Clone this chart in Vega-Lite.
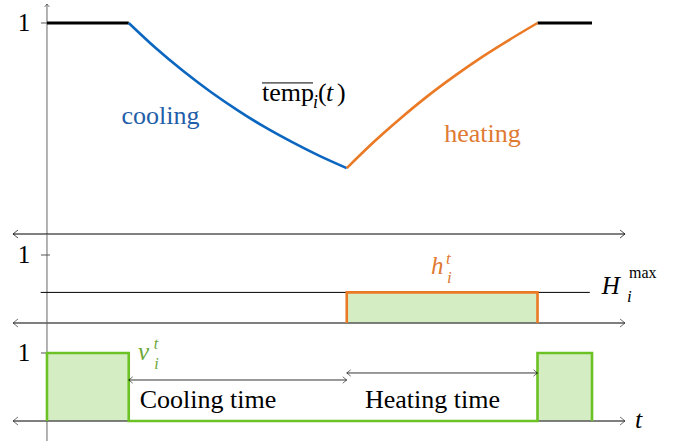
{
  "$schema": "https://vega.github.io/schema/vega-lite/v6.json",
  "padding": 0,
  "spacing": 0,
  "bounds": "flush",
  "config": {"view": {"stroke": null}, "concat": {"spacing": 0}, "font": "Liberation Serif", "text": {"font": "Liberation Serif"}},
  "datasets": {
    "cooling": [
      {"t": 1.5, "v": 1.0}, {"t": 2.0, "v": 0.88}, {"t": 2.5, "v": 0.772}, {"t": 3.0, "v": 0.674},
      {"t": 3.5, "v": 0.586}, {"t": 4.0, "v": 0.506}, {"t": 4.5, "v": 0.435}, {"t": 5.0, "v": 0.37}, {"t": 5.5, "v": 0.312}
    ],
    "heating": [
      {"t": 5.5, "v": 0.312}, {"t": 6.0, "v": 0.437}, {"t": 6.5, "v": 0.551}, {"t": 7.0, "v": 0.657},
      {"t": 7.5, "v": 0.753}, {"t": 8.0, "v": 0.842}, {"t": 8.5, "v": 0.923}, {"t": 9.0, "v": 1.0}
    ],
    "flat": [
      {"seg": "a", "t": 0, "v": 1}, {"seg": "a", "t": 1.5, "v": 1},
      {"seg": "b", "t": 9, "v": 1}, {"seg": "b", "t": 10, "v": 1}
    ],
    "heat_power": [
      {"i": 0, "t": 5.5, "v": 0}, {"i": 1, "t": 5.5, "v": 0.45}, {"i": 2, "t": 9, "v": 0.45}, {"i": 3, "t": 9, "v": 0}
    ],
    "heat_area": [{"t1": 5.5, "t2": 9, "v1": 0, "v2": 0.45}],
    "valve": [
      {"i": 0, "t": 0, "v": 0}, {"i": 1, "t": 0, "v": 1}, {"i": 2, "t": 1.5, "v": 1}, {"i": 3, "t": 1.5, "v": 0},
      {"i": 4, "t": 9, "v": 0}, {"i": 5, "t": 9, "v": 1}, {"i": 6, "t": 10, "v": 1}, {"i": 7, "t": 10, "v": 0}
    ],
    "valve_area": [{"t1": 0, "t2": 1.5, "v1": 0, "v2": 1}, {"t1": 9, "t2": 10, "v1": 0, "v2": 1}]
  },
  "vconcat": [
    {
      "width": 673,
      "height": 234,
      "encoding": {
        "x": {"field": "t", "type": "quantitative", "scale": {"domain": [-0.862, 11.486], "nice": false, "zero": false}, "axis": null},
        "y": {"field": "v", "type": "quantitative", "scale": {"domain": [0, 1.109], "nice": false, "zero": false}, "axis": null}
      },
      "layer": [
        {"data": {"values": [{"t": 0, "v": 0, "v2": 1.09}]}, "mark": {"type": "rule", "color": "#666", "strokeWidth": 1}, "encoding": {"y2": {"field": "v2"}}},
        {"data": {"values": [{"t": 0, "v": 1.09}]}, "mark": {"type": "point", "shape": "M-0.8,1L0,0L0.8,1", "size": 36, "filled": false, "color": "#444", "strokeWidth": 1}},
        {"data": {"values": [{"t": -0.11, "t2": 0.055, "v": 1}]}, "mark": {"type": "rule", "color": "#555", "strokeWidth": 1}, "encoding": {"x2": {"field": "t2"}}},
        {"data": {"values": [{"t": -0.42, "v": 1, "label": "1"}]}, "mark": {"type": "text", "fontSize": 25, "align": "center", "baseline": "middle", "color": "#000"}, "encoding": {"text": {"field": "label"}}},
        {"data": {"values": [{"t": -0.624, "t2": 10.606, "v": 0}]}, "mark": {"type": "rule", "color": "#000", "strokeWidth": 1}, "encoding": {"x2": {"field": "t2"}}},
        {"data": {"values": [{"t": -0.624, "v": 0}]}, "mark": {"type": "point", "shape": "M1,-0.8L0,0L1,0.8", "size": 100, "filled": false, "color": "#000", "strokeWidth": 1}},
        {"data": {"values": [{"t": 10.606, "v": 0}]}, "mark": {"type": "point", "shape": "M-1,-0.8L0,0L-1,0.8", "size": 100, "filled": false, "color": "#000", "strokeWidth": 1}},
        {"data": {"name": "flat"}, "mark": {"type": "line", "color": "#000", "strokeWidth": 3}, "encoding": {"detail": {"field": "seg"}}},
        {"data": {"name": "cooling"}, "mark": {"type": "line", "color": "#0b66c0", "strokeWidth": 2.6, "interpolate": "monotone"}},
        {"data": {"name": "heating"}, "mark": {"type": "line", "color": "#ea7a25", "strokeWidth": 2.6, "interpolate": "monotone"}},
        {"data": {"values": [{"t": 2.083, "v": 0.521, "label": "cooling"}]}, "mark": {"type": "text", "fontSize": 26, "align": "center", "baseline": "alphabetic", "color": "#1f5ea8"}, "encoding": {"text": {"field": "label"}}},
        {"data": {"values": [{"t": 7.99, "v": 0.436, "label": "heating"}]}, "mark": {"type": "text", "fontSize": 26, "align": "center", "baseline": "alphabetic", "color": "#e07a33"}, "encoding": {"text": {"field": "label"}}},
        {"data": {"values": [{"t": 3.945, "v": 0.63, "label": "temp"}]}, "mark": {"type": "text", "fontSize": 26, "align": "left", "baseline": "alphabetic", "color": "#000"}, "encoding": {"text": {"field": "label"}}},
        {"data": {"values": [{"t": 3.945, "t2": 4.881, "v": 0.716}]}, "mark": {"type": "rule", "color": "#000", "strokeWidth": 1}, "encoding": {"x2": {"field": "t2"}}},
        {"data": {"values": [{"t": 4.88, "v": 0.597, "label": "i"}]}, "mark": {"type": "text", "fontStyle": "italic", "fontSize": 18, "align": "left", "baseline": "alphabetic", "color": "#000"}, "encoding": {"text": {"field": "label"}}},
        {"data": {"values": [{"t": 4.972, "v": 0.63, "label": "("}, {"t": 5.32, "v": 0.63, "label": ")"}]}, "mark": {"type": "text", "fontSize": 26, "align": "left", "baseline": "alphabetic", "color": "#000"}, "encoding": {"text": {"field": "label"}}},
        {"data": {"values": [{"t": 5.12, "v": 0.63, "label": "t"}]}, "mark": {"type": "text", "fontStyle": "italic", "fontSize": 26, "align": "left", "baseline": "alphabetic", "color": "#000"}, "encoding": {"text": {"field": "label"}}}
      ]
    },
    {
      "width": 673,
      "height": 89,
      "encoding": {
        "x": {"field": "t", "type": "quantitative", "scale": {"domain": [-0.862, 11.486], "nice": false, "zero": false}, "axis": null},
        "y": {"field": "v", "type": "quantitative", "scale": {"domain": [0, 1.309], "nice": false, "zero": false}, "axis": null}
      },
      "layer": [
        {"data": {"name": "heat_area"}, "mark": {"type": "rect", "color": "#d5edc2"}, "encoding": {"x": {"field": "t1", "type": "quantitative"}, "x2": {"field": "t2"}, "y": {"field": "v1", "type": "quantitative"}, "y2": {"field": "v2"}}},
        {"data": {"values": [{"t": 0, "v": 0, "v2": 1.309}]}, "mark": {"type": "rule", "color": "#666", "strokeWidth": 1}, "encoding": {"y2": {"field": "v2"}}},
        {"data": {"values": [{"t": -0.11, "t2": 0.055, "v": 1}]}, "mark": {"type": "rule", "color": "#555", "strokeWidth": 1}, "encoding": {"x2": {"field": "t2"}}},
        {"data": {"values": [{"t": -0.42, "v": 1, "label": "1"}]}, "mark": {"type": "text", "fontSize": 25, "align": "center", "baseline": "middle", "color": "#000"}, "encoding": {"text": {"field": "label"}}},
        {"data": {"values": [{"t": -0.116, "t2": 9.96, "v": 0.45}]}, "mark": {"type": "rule", "color": "#000", "strokeWidth": 1}, "encoding": {"x2": {"field": "t2"}}},
        {"data": {"values": [{"t": -0.624, "t2": 10.606, "v": 0}]}, "mark": {"type": "rule", "color": "#555", "strokeWidth": 1.3}, "encoding": {"x2": {"field": "t2"}}},
        {"data": {"values": [{"t": -0.624, "v": 0}]}, "mark": {"type": "point", "shape": "M1,-0.8L0,0L1,0.8", "size": 100, "filled": false, "color": "#333", "strokeWidth": 1}},
        {"data": {"values": [{"t": 10.606, "v": 0}]}, "mark": {"type": "point", "shape": "M-1,-0.8L0,0L-1,0.8", "size": 100, "filled": false, "color": "#333", "strokeWidth": 1}},
        {"data": {"name": "heat_power"}, "mark": {"type": "line", "color": "#ea7a25", "strokeWidth": 2.6}, "encoding": {"order": {"field": "i"}}},
        {"data": {"values": [{"t": 7.046, "v": 0.72, "label": "h"}]}, "mark": {"type": "text", "fontStyle": "italic", "fontSize": 25, "align": "left", "baseline": "alphabetic", "color": "#e07a33"}, "encoding": {"text": {"field": "label"}}},
        {"data": {"values": [{"t": 7.321, "v": 0.868, "label": "t"}, {"t": 7.339, "v": 0.588, "label": "i"}]}, "mark": {"type": "text", "fontStyle": "italic", "fontSize": 17, "align": "left", "baseline": "alphabetic", "color": "#e07a33"}, "encoding": {"text": {"field": "label"}}},
        {"data": {"values": [{"t": 10.18, "v": 0.426, "label": "H"}]}, "mark": {"type": "text", "fontStyle": "italic", "fontSize": 25, "align": "left", "baseline": "alphabetic", "color": "#000"}, "encoding": {"text": {"field": "label"}}},
        {"data": {"values": [{"t": 10.68, "v": 0.662, "label": "max"}]}, "mark": {"type": "text", "fontSize": 16, "align": "left", "baseline": "alphabetic", "color": "#000"}, "encoding": {"text": {"field": "label"}}},
        {"data": {"values": [{"t": 10.64, "v": 0.309, "label": "i"}]}, "mark": {"type": "text", "fontStyle": "italic", "fontSize": 17, "align": "left", "baseline": "alphabetic", "color": "#000"}, "encoding": {"text": {"field": "label"}}}
      ]
    },
    {
      "width": 673,
      "height": 122,
      "encoding": {
        "x": {"field": "t", "type": "quantitative", "scale": {"domain": [-0.862, 11.486], "nice": false, "zero": false}, "axis": null},
        "y": {"field": "v", "type": "quantitative", "scale": {"domain": [-0.353, 1.441], "nice": false, "zero": false}, "axis": null}
      },
      "layer": [
        {"data": {"name": "valve_area"}, "mark": {"type": "rect", "color": "#d5edc2"}, "encoding": {"x": {"field": "t1", "type": "quantitative"}, "x2": {"field": "t2"}, "y": {"field": "v1", "type": "quantitative"}, "y2": {"field": "v2"}}},
        {"data": {"values": [{"t": 0, "v": -0.294, "v2": 1.441}]}, "mark": {"type": "rule", "color": "#666", "strokeWidth": 1}, "encoding": {"y2": {"field": "v2"}}},
        {"data": {"values": [{"t": -0.11, "t2": 0.055, "v": 1}]}, "mark": {"type": "rule", "color": "#555", "strokeWidth": 1}, "encoding": {"x2": {"field": "t2"}}},
        {"data": {"values": [{"t": -0.42, "v": 1, "label": "1"}]}, "mark": {"type": "text", "fontSize": 25, "align": "center", "baseline": "middle", "color": "#000"}, "encoding": {"text": {"field": "label"}}},
        {"data": {"values": [{"t": -0.624, "t2": 10.606, "v": 0}]}, "mark": {"type": "rule", "color": "#555", "strokeWidth": 1.3}, "encoding": {"x2": {"field": "t2"}}},
        {"data": {"values": [{"t": -0.624, "v": 0}]}, "mark": {"type": "point", "shape": "M1,-0.8L0,0L1,0.8", "size": 100, "filled": false, "color": "#333", "strokeWidth": 1}},
        {"data": {"values": [{"t": 10.606, "v": 0}]}, "mark": {"type": "point", "shape": "M-1,-0.8L0,0L-1,0.8", "size": 100, "filled": false, "color": "#333", "strokeWidth": 1}},
        {"data": {"name": "valve"}, "mark": {"type": "line", "color": "#6cc124", "strokeWidth": 2.6}, "encoding": {"order": {"field": "i"}}},
        {"data": {"values": [{"t": 1.5, "t2": 5.5, "v": 0.603}, {"t": 5.5, "t2": 9, "v": 0.706}]}, "mark": {"type": "rule", "color": "#000", "strokeWidth": 0.8}, "encoding": {"x2": {"field": "t2"}}},
        {"data": {"values": [{"t": 1.5, "v": 0.603}, {"t": 5.5, "v": 0.706}]}, "mark": {"type": "point", "shape": "M1,-0.8L0,0L1,0.8", "size": 64, "filled": false, "color": "#000", "strokeWidth": 0.8}},
        {"data": {"values": [{"t": 5.5, "v": 0.603}, {"t": 9, "v": 0.706}]}, "mark": {"type": "point", "shape": "M-1,-0.8L0,0L-1,0.8", "size": 64, "filled": false, "color": "#000", "strokeWidth": 0.8}},
        {"data": {"values": [{"t": 2.954, "v": 0.191, "label": "Cooling time"}, {"t": 7.073, "v": 0.191, "label": "Heating time"}]}, "mark": {"type": "text", "fontSize": 26, "align": "center", "baseline": "alphabetic", "color": "#000"}, "encoding": {"text": {"field": "label"}}},
        {"data": {"values": [{"t": 1.67, "v": 0.897, "label": "v"}]}, "mark": {"type": "text", "fontStyle": "italic", "fontSize": 25, "align": "left", "baseline": "alphabetic", "color": "#6aa839"}, "encoding": {"text": {"field": "label"}}},
        {"data": {"values": [{"t": 1.96, "v": 1.06, "label": "t"}, {"t": 1.97, "v": 0.77, "label": "i"}]}, "mark": {"type": "text", "fontStyle": "italic", "fontSize": 16, "align": "left", "baseline": "alphabetic", "color": "#6aa839"}, "encoding": {"text": {"field": "label"}}},
        {"data": {"values": [{"t": 10.79, "v": -0.103, "label": "t"}]}, "mark": {"type": "text", "fontStyle": "italic", "fontSize": 26, "align": "left", "baseline": "alphabetic", "color": "#000"}, "encoding": {"text": {"field": "label"}}}
      ]
    }
  ]
}
